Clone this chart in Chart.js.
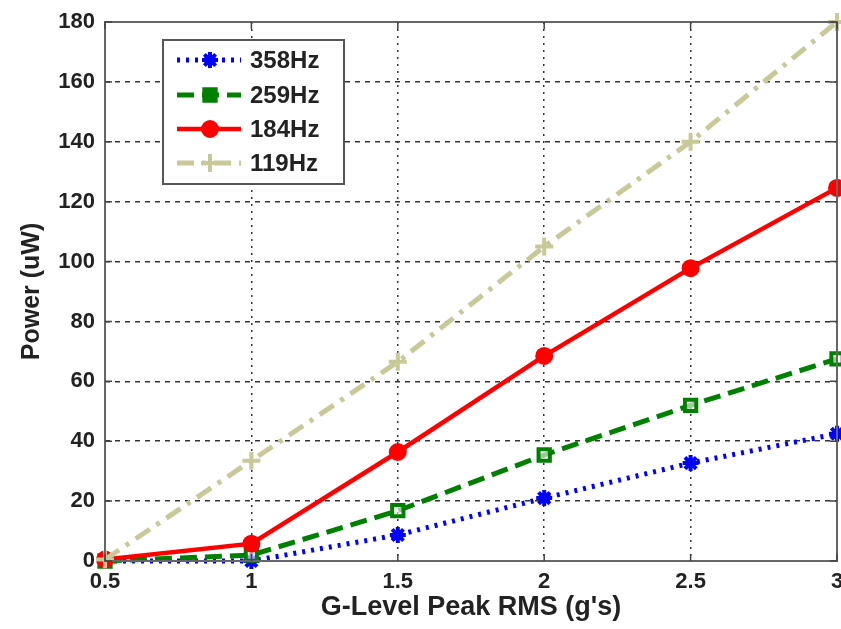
<!DOCTYPE html>
<html lang="en">
<head>
    <meta charset="UTF-8">
    <title>Power vs G-Level</title>
    <style>
        html, body { margin: 0; padding: 0; background: #ffffff; }
        #wrap { width: 841px; height: 629px; }
    </style>
</head>
<body>
    <div id="wrap"><canvas id="chart" width="841" height="629"></canvas></div>

    <script src="https://cdn.jsdelivr.net/npm/chart.js"></script>
    <script>
        // data
        const gLevels = [0.5, 1, 1.5, 2, 2.5, 3];
        const xTicks = ['0.5', '1', '1.5', '2', '2.5', '3'];
        const yTicks = [0, 20, 40, 60, 80, 100, 120, 140, 160, 180];
        const seriesNames = ['358Hz', '259Hz', '184Hz', '119Hz'];
        const p358 = [0, 0, 8.7, 21, 32.7, 42.5];
        const p259 = [0, 2, 16.8, 35.4, 52, 67.5];
        const p184 = [0.5, 5.8, 36.4, 68.5, 97.8, 124.6];
        const p119 = [0.5, 33.5, 66.5, 105, 140, 180];

        const font = 'Liberation Sans, Arial, sans-serif';

        function pts(vals) {
            return gLevels.map((g, i) => ({ x: g, y: vals[i] }));
        }

        const styles = [
            { color: '#0000ff', dash: [3, 6], point: 'star', radius: 8, fill: '#0000ff', width: 5 },
            { color: '#008000', dash: [17, 8], point: 'rect', radius: 8, fill: 'rgba(255,255,255,0.6)', width: 5 },
            { color: '#ff0000', dash: [], point: 'circle', radius: 7, fill: '#ff0000', width: 4.5 },
            { color: '#c8c898', dash: [17, 8, 4, 8], point: 'cross', radius: 9, fill: '#c8c898', width: 5 }
        ];
        const values = [p358, p259, p184, p119];

        const datasets = seriesNames.map((name, i) => ({
            label: name,
            data: pts(values[i]),
            borderColor: styles[i].color,
            borderWidth: styles[i].width,
            borderDash: styles[i].dash,
            pointStyle: styles[i].point,
            pointRadius: styles[i].radius,
            pointBorderWidth: 4,
            pointBorderColor: styles[i].color,
            pointBackgroundColor: styles[i].fill,
            tension: 0,
            clip: 12,
            order: 4 - i
        }));

        // box, inward ticks and the legend box drawn like the MATLAB figure
        const framePlugin = {
            id: 'frame',
            afterDatasetsDraw(chart) {
                const ctx = chart.ctx;
                const a = chart.chartArea;
                const xs = chart.scales.x, ys = chart.scales.y;
                ctx.save();
                ctx.strokeStyle = '#666666';
                ctx.lineWidth = 2;
                ctx.setLineDash([]);
                ctx.strokeRect(a.left, a.top, a.right - a.left, a.bottom - a.top);
                ctx.strokeStyle = '#444444';
                ctx.lineWidth = 1.5;
                const t = 7;
                gLevels.forEach(g => {
                    const px = xs.getPixelForValue(g);
                    ctx.beginPath();
                    ctx.moveTo(px, a.bottom); ctx.lineTo(px, a.bottom - t);
                    ctx.moveTo(px, a.top); ctx.lineTo(px, a.top + t);
                    ctx.stroke();
                });
                yTicks.forEach(v => {
                    const py = ys.getPixelForValue(v);
                    ctx.beginPath();
                    ctx.moveTo(a.left, py); ctx.lineTo(a.left + t, py);
                    ctx.moveTo(a.right, py); ctx.lineTo(a.right - t, py);
                    ctx.stroke();
                });

                // legend
                const bx = 163, by = 40, bw = 181, bh = 144;
                ctx.fillStyle = '#ffffff';
                ctx.fillRect(bx, by, bw, bh);
                ctx.strokeStyle = '#555555';
                ctx.lineWidth = 2;
                ctx.strokeRect(bx, by, bw, bh);
                const rowY = [60, 95, 129, 163];
                chart.data.datasets.forEach((ds, i) => {
                    const y = rowY[i];
                    ctx.save();
                    ctx.strokeStyle = ds.borderColor;
                    ctx.lineWidth = ds.borderWidth;
                    ctx.setLineDash(ds.borderDash);
                    ctx.beginPath();
                    ctx.moveTo(177, y); ctx.lineTo(241, y);
                    ctx.stroke();
                    ctx.setLineDash([]);
                    ctx.fillStyle = ds.borderColor;
                    ctx.strokeStyle = ds.borderColor;
                    ctx.lineWidth = 4;
                    Chart.helpers.drawPoint(ctx, {
                        pointStyle: ds.pointStyle,
                        radius: ds.pointRadius,
                        rotation: 0,
                        borderWidth: 4
                    }, 210, y);
                    ctx.restore();
                    ctx.fillStyle = '#222222';
                    ctx.font = 'bold 24px ' + font;
                    ctx.textBaseline = 'middle';
                    ctx.textAlign = 'left';
                    ctx.fillText(ds.label, 250, y + 1);
                });
                ctx.restore();
            }
        };

        // the label "3" should not push the plot box in from the right edge
        function noSidePadding(scale) {
            scale.paddingRight = 0;
            scale.paddingLeft = 0;
        }

        new Chart(document.getElementById('chart').getContext('2d'), {
            type: 'line',
            data: { datasets: datasets },
            options: {
                responsive: false,
                animation: false,
                // autoPadding off: the markers would otherwise pull the plot box in
                layout: { autoPadding: false, padding: { top: 22, right: 4, left: 0, bottom: 0 } },
                plugins: {
                    legend: { display: false },
                    tooltip: { enabled: false }
                },
                scales: {
                    x: {
                        type: 'linear',
                        min: 0.5,
                        max: 3,
                        afterBuildTicks(scale) {
                            scale.ticks = gLevels.map(v => ({ value: v }));
                        },
                        afterFit(scale) {
                            scale.height = 68;
                            noSidePadding(scale);
                        },
                        ticks: {
                            callback: (v, i) => xTicks[i],
                            color: '#222222',
                            font: { family: font, size: 22, weight: 'bold' },
                            padding: 8,
                            maxRotation: 0
                        },
                        grid: { color: '#333333', lineWidth: 1.5, drawTicks: false },
                        border: { display: false, dash: [2, 5] },
                        title: {
                            display: true,
                            text: "G-Level Peak RMS (g's)",
                            color: '#222222',
                            font: { family: font, size: 27, weight: 'bold' },
                            padding: { top: 0, bottom: 5 }
                        }
                    },
                    y: {
                        min: 0,
                        max: 180,
                        afterBuildTicks(scale) {
                            scale.ticks = yTicks.map(v => ({ value: v }));
                        },
                        afterFit(scale) {
                            scale.width = 105;
                            scale.paddingTop = 0;
                            scale.paddingBottom = 0;
                        },
                        ticks: {
                            color: '#222222',
                            font: { family: font, size: 22, weight: 'bold' },
                            padding: 10
                        },
                        grid: { color: '#333333', lineWidth: 1.5, drawTicks: false },
                        border: { display: false, dash: [5, 5] },
                        title: {
                            display: true,
                            text: 'Power (uW)',
                            color: '#222222',
                            font: { family: font, size: 25, weight: 'bold' },
                            padding: { top: 17, bottom: 0 }
                        }
                    }
                }
            },
            plugins: [framePlugin]
        });
    </script>
</body>
</html>
